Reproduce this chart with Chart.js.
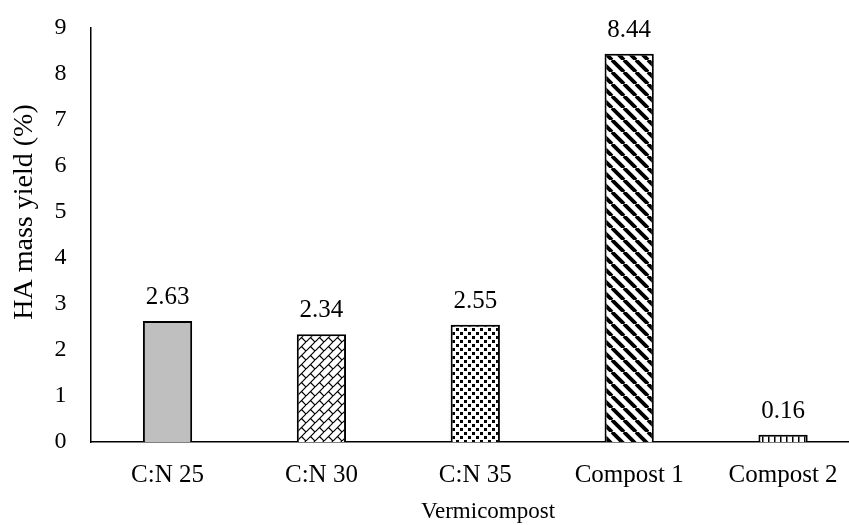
<!DOCTYPE html>
<html>
<head>
<meta charset="utf-8">
<script src="https://cdn.jsdelivr.net/npm/chart.js@4/dist/chart.umd.min.js"></script>
<style>
  html, body { margin: 0; padding: 0; background: #fff; overflow: hidden; }
  #wrap { width: 860px; height: 525px; }
</style>
</head>
<body>
<div id="wrap"><canvas id="c" width="860" height="525"></canvas></div>
<script>
// HA mass yield per vermicompost / compost sample
const categories = ['C:N 25', 'C:N 30', 'C:N 35', 'Compost 1', 'Compost 2'];
const yieldValues = [2.63, 2.34, 2.55, 8.44, 0.16];
const yTicks = [0, 1, 2, 3, 4, 5, 6, 7, 8, 9];
const xTitle = 'Vermicompost';
const yTitle = 'HA mass yield (%)';

const FONT = '"Liberation Serif", "Times New Roman", serif';

// Build a repeating fill pattern from a small tile
function makePattern(size, draw) {
  const t = document.createElement('canvas');
  t.width = size; t.height = size;
  const g = t.getContext('2d');
  g.fillStyle = '#fff';
  g.fillRect(0, 0, size, size);
  draw(g, size);
  return document.getElementById('c').getContext('2d').createPattern(t, 'repeat');
}

// diagonal brick: continuous "/" lines with staggered short "\" joints
const brick = makePattern(9, (g, s) => {
  g.strokeStyle = '#000'; g.lineWidth = 1.2;
  g.beginPath();
  for (let k = -1; k <= 1; k++) {
    g.moveTo(k * s, s); g.lineTo(k * s + s, 0);
  }
  g.moveTo(s / 2, s / 2); g.lineTo(s + 1, s + 1);
  g.moveTo(-1, -1); g.lineTo(0, 0);
  g.stroke();
});

// small squares
const dots = makePattern(8, (g) => {
  g.fillStyle = '#000';
  g.fillRect(0, 0, 3, 3);
  g.fillRect(4, 4, 3, 3);
});

// wide downward diagonal stripes
const stripes = makePattern(12, (g, s) => {
  g.strokeStyle = '#000'; g.lineWidth = 3.8;
  g.beginPath();
  for (let k = -1; k <= 1; k++) {
    g.moveTo(k * s, 0); g.lineTo(k * s + s, s);
  }
  g.stroke();
});

// narrow vertical lines
const vlines = makePattern(6, (g, s) => {
  g.fillStyle = '#000';
  g.fillRect(0, 0, 1.5, s);
});

const fills = ['#bfbfbf', brick, dots, stripes, vlines];

// value labels above the bars
const valueLabels = {
  id: 'valueLabels',
  afterDatasetsDraw(chart) {
    const ctx = chart.ctx;
    const meta = chart.getDatasetMeta(0);
    ctx.save();
    ctx.fillStyle = '#000';
    ctx.font = '25px ' + FONT;
    ctx.textAlign = 'center';
    ctx.textBaseline = 'bottom';
    meta.data.forEach((bar, i) => {
      ctx.fillText(yieldValues[i].toFixed(2), bar.x, bar.y - 11);
    });
    ctx.restore();
  }
};

// axis titles placed as in the layout of the figure
const axisTitles = {
  id: 'axisTitles',
  afterDraw(chart) {
    const ctx = chart.ctx;
    ctx.save();
    ctx.fillStyle = '#000';
    ctx.textAlign = 'center';
    ctx.textBaseline = 'middle';
    ctx.font = '23px ' + FONT;
    ctx.fillText(xTitle, 488, 512);
    ctx.translate(25, 212);
    ctx.rotate(-Math.PI / 2);
    ctx.font = '28px ' + FONT;
    ctx.fillText(yTitle, 0, 0);
    ctx.restore();
  }
};

new Chart(document.getElementById('c'), {
  type: 'bar',
  data: {
    labels: categories,
    datasets: [{
      data: yieldValues,
      backgroundColor: fills,
      borderColor: '#000',
      borderWidth: 2,
      borderSkipped: 'bottom',
      categoryPercentage: 1,
      barPercentage: 0.32
    }]
  },
  options: {
    responsive: false,
    animation: false,
    layout: { padding: { top: 28, right: 0, bottom: 0, left: 0 } },
    plugins: { legend: { display: false }, tooltip: { enabled: false } },
    scales: {
      x: {
        grid: { display: false, drawTicks: false },
        border: { display: true, color: '#000', width: 1.5 },
        ticks: { color: '#000', font: { family: FONT, size: 25 }, padding: 18 },
        afterFit(s) { s.height = 83; }
      },
      y: {
        min: 0, max: 9,
        afterBuildTicks(s) { s.ticks = yTicks.map(v => ({ value: v })); },
        grid: { display: false, drawTicks: false },
        border: { display: true, color: '#000', width: 1.5 },
        ticks: { color: '#000', font: { family: FONT, size: 24 }, padding: 24 },
        afterFit(s) { s.width = 90.6; s.paddingTop = 0; s.paddingBottom = 0; }
      }
    }
  },
  plugins: [valueLabels, axisTitles]
});
</script>
</body>
</html>
